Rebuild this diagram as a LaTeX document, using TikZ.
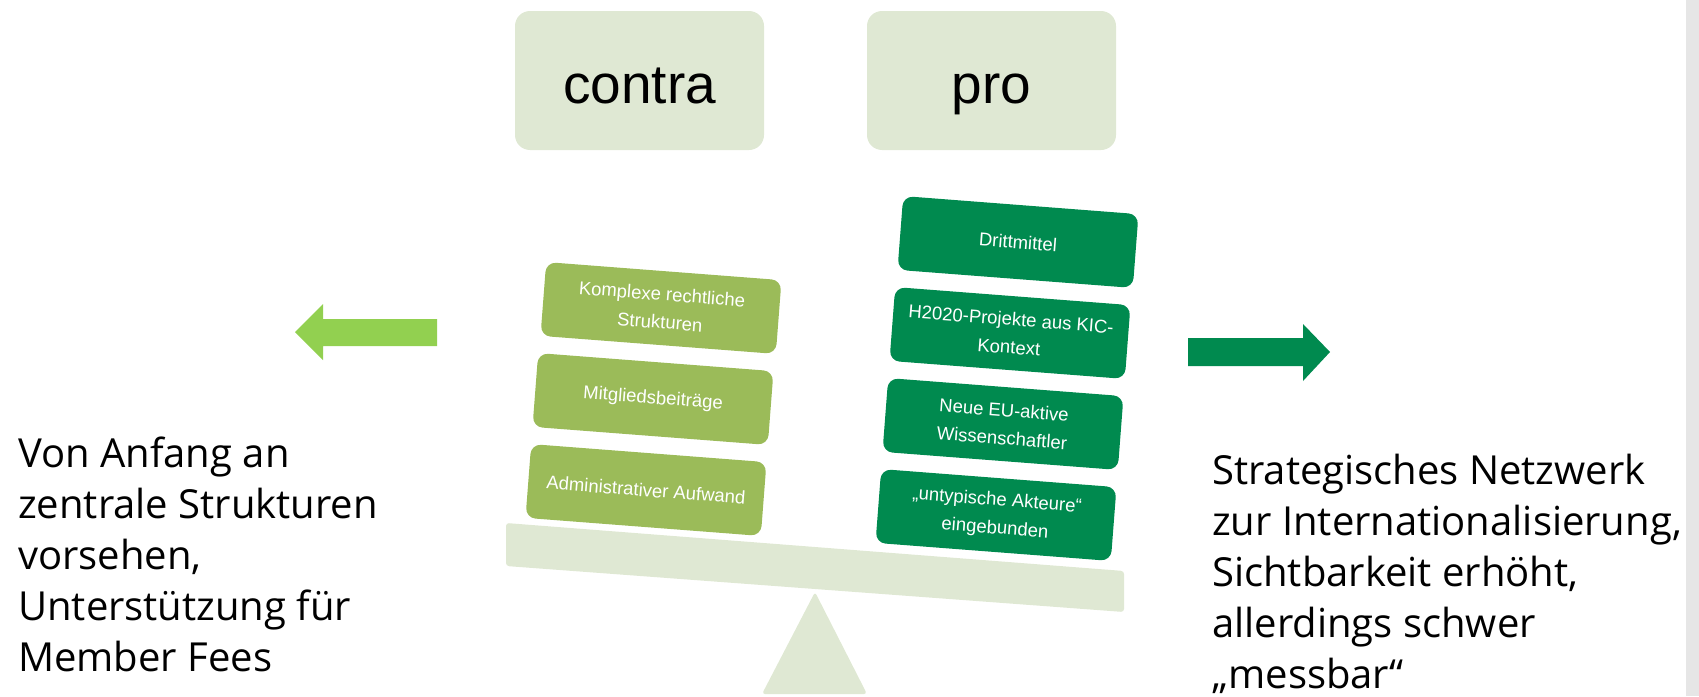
\documentclass[tikz,border=0pt]{standalone}
\usepackage{fontspec}
\setmainfont{Liberation Sans}
\newfontfamily\sidefont{Open Sans}
\definecolor{paleGreen}{HTML}{DFE8D3}
\definecolor{conGreen}{HTML}{9BBB59}
\definecolor{proGreen}{HTML}{008A4F}
\definecolor{arrowGreen}{HTML}{92D050}
\definecolor{sideGrey}{HTML}{E6E6E6}
\tikzset{
  headbox/.style={fill=paleGreen, rounded corners=15pt, minimum width=249pt, minimum height=139pt, text height=45pt, text depth=0pt, font=\fontsize{55}{60}\selectfont},
  blockbox/.style={rounded corners=10pt, minimum width=236pt, minimum height=74pt, rotate=-4.4, align=center, text=white, inner sep=0pt, font=\fontsize{18.5}{28}\selectfont},
  conbox/.style={blockbox, fill=conGreen},
  probox/.style={blockbox, fill=proGreen},
  sidetext/.style={align=left, anchor=north west, inner sep=0pt, font=\sidefont\fontsize{40}{51}\selectfont}
}
\begin{document}
\begin{tikzpicture}[x=1pt,y=-1pt]
\useasboundingbox (0,0) rectangle (1699,696);
\fill[sideGrey] (1686,0) rectangle (1699,696);
%
\node[headbox] (contra) at (639.5,80.5) {contra};
\node[headbox] (pro) at (991.5,80.5) {pro};
%
\fill[paleGreen, rounded corners=3pt] (506,523) -- (1124,571) -- (1124,612) -- (506,566) -- cycle;
\fill[paleGreen, rounded corners=3pt] (815,592) -- (867,694) -- (762,694) -- cycle;
%
\node[conbox] (komplex) at (661,308) {Komplexe rechtliche\\Strukturen};
\node[conbox] (beitrag) at (653,399) {Mitgliedsbeiträge};
\node[conbox] (aufwand) at (646,490) {Administrativer Aufwand};
%
\node[probox] (dritt) at (1018,242) {Drittmittel};
\node[probox] (projekte) at (1010,333) {H2020-Projekte aus KIC-\\Kontext};
\node[probox] (forscher) at (1003,424) {Neue EU-aktive\\Wissenschaftler};
\node[probox] (akteure) at (996,515) {„untypische Akteure“\\eingebunden};
%
\fill[arrowGreen] (437,319) -- (323,319) -- (323,304) -- (295,332) -- (323,360) -- (323,346) -- (437,346) -- cycle;
\fill[proGreen] (1188,338) -- (1303,338) -- (1303,324) -- (1330,352) -- (1303,381) -- (1303,366) -- (1188,366) -- cycle;
%
\node[sidetext] (links) at (18,437) {Von Anfang an\\zentrale Strukturen\\vorsehen,\\Unterstützung für\\Member Fees};
\node[sidetext] (rechts) at (1212,454) {Strategisches Netzwerk\\zur Internationalisierung,\\Sichtbarkeit erhöht,\\allerdings schwer\\„messbar“};
\end{tikzpicture}
\end{document}
